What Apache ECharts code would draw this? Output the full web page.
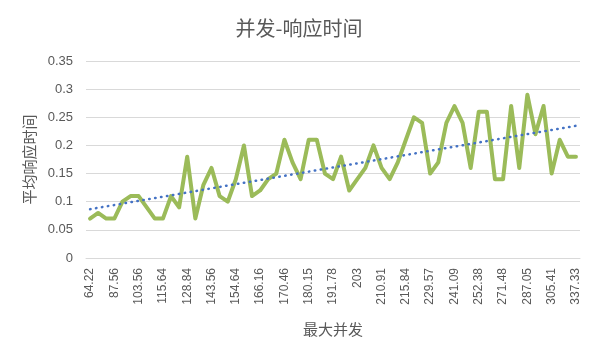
<!DOCTYPE html>
<html>
<head>
<meta charset="utf-8">
<script src="https://cdn.jsdelivr.net/npm/echarts@6/dist/echarts.min.js"></script>
<style>
  html, body { margin: 0; padding: 0; background: #fff; }
  #chart { width: 598px; height: 354px; }
</style>
</head>
<body>
<div id="chart"></div>
<script>
// 横轴只标了每三个一个的刻度，中间的类目没有标签
var shownLabels = ['64.22', '87.56', '103.56', '115.64', '128.84', '143.56', '154.64',
  '166.16', '170.46', '180.15', '191.78', '203', '210.91', '215.84', '229.57',
  '241.09', '252.38', '271.48', '287.05', '305.41', '337.33'];

// 平均响应时间（从图上读的）
var respTime = [
  0.07, 0.08, 0.07, 0.07, 0.10, 0.11, 0.11, 0.09, 0.07, 0.07,
  0.11, 0.09, 0.18, 0.07, 0.13, 0.16, 0.11, 0.10, 0.14, 0.20,
  0.11, 0.12, 0.14, 0.15, 0.21, 0.17, 0.14, 0.21, 0.21, 0.15,
  0.14, 0.18, 0.12, 0.14, 0.16, 0.20, 0.16, 0.14, 0.17, 0.21,
  0.25, 0.24, 0.15, 0.17, 0.24, 0.27, 0.24, 0.16, 0.26, 0.26,
  0.14, 0.14, 0.27, 0.16, 0.29, 0.22, 0.27, 0.15, 0.21, 0.18,
  0.18
];

var yTicks = { min: 0, max: 0.35, step: 0.05 };

// 类目：有标签的放上去，其余留空
var categories = respTime.map(function (v, i) {
  return i % 3 === 0 ? shownLabels[i / 3] : '';
});

// 线性趋势线（最小二乘，和 Excel 一样按序号 1..n 拟合）
function linearTrend(arr) {
  var n = arr.length, sx = 0, sy = 0, sxy = 0, sxx = 0;
  arr.forEach(function (y, i) {
    var x = i + 1;
    sx += x; sy += y; sxy += x * y; sxx += x * x;
  });
  var k = (n * sxy - sx * sy) / (n * sxx - sx * sx);
  var b = (sy - k * sx) / n;
  return arr.map(function (y, i) { return +(k * (i + 1) + b).toFixed(4); });
}

var myChart = echarts.init(document.getElementById('chart'));
var grey = '#595959';
var option = {
  animation: false,
  title: {
    text: '并发-响应时间',
    left: 'center',
    top: 13,
    textStyle: {
      fontFamily: 'Noto Sans CJK SC',
      fontWeight: 'normal',
      fontSize: 20,
      color: grey
    }
  },
  grid: { left: 86, right: 18, top: 61, bottom: 96 },
  xAxis: {
    type: 'category',
    data: categories,
    boundaryGap: true,
    name: '最大并发',
    nameLocation: 'middle',
    nameGap: 64,
    nameTextStyle: { fontFamily: 'Noto Sans CJK SC', fontSize: 15, color: grey },
    axisLine: { lineStyle: { color: '#d9d9d9' } },
    axisTick: { show: false },
    axisLabel: {
      interval: 0,
      rotate: 90,
      margin: 10,
      fontSize: 12,
      fontFamily: 'Liberation Sans',
      color: grey
    }
  },
  yAxis: {
    type: 'value',
    min: yTicks.min,
    max: yTicks.max,
    interval: yTicks.step,
    name: '平均响应时间',
    nameLocation: 'middle',
    nameGap: 46,
    nameTextStyle: { fontFamily: 'Noto Sans CJK SC', fontSize: 15, color: grey },
    axisLine: { show: false },
    axisTick: { show: false },
    axisLabel: { margin: 13, fontSize: 13, fontFamily: 'Liberation Sans', color: grey },
    splitLine: { lineStyle: { color: '#d9d9d9', width: 1 } }
  },
  series: [
    {
      name: '平均响应时间',
      type: 'line',
      data: respTime,
      symbol: 'none',
      lineStyle: { color: '#9bbb59', width: 4, join: 'round', cap: 'round' },
      z: 2
    },
    {
      name: '线性趋势',
      type: 'line',
      data: linearTrend(respTime),
      symbol: 'none',
      lineStyle: { color: '#4472c4', width: 2.5, type: [0.5, 5.5], cap: 'round' },
      z: 3
    }
  ]
};
myChart.setOption(option);
</script>
</body>
</html>
